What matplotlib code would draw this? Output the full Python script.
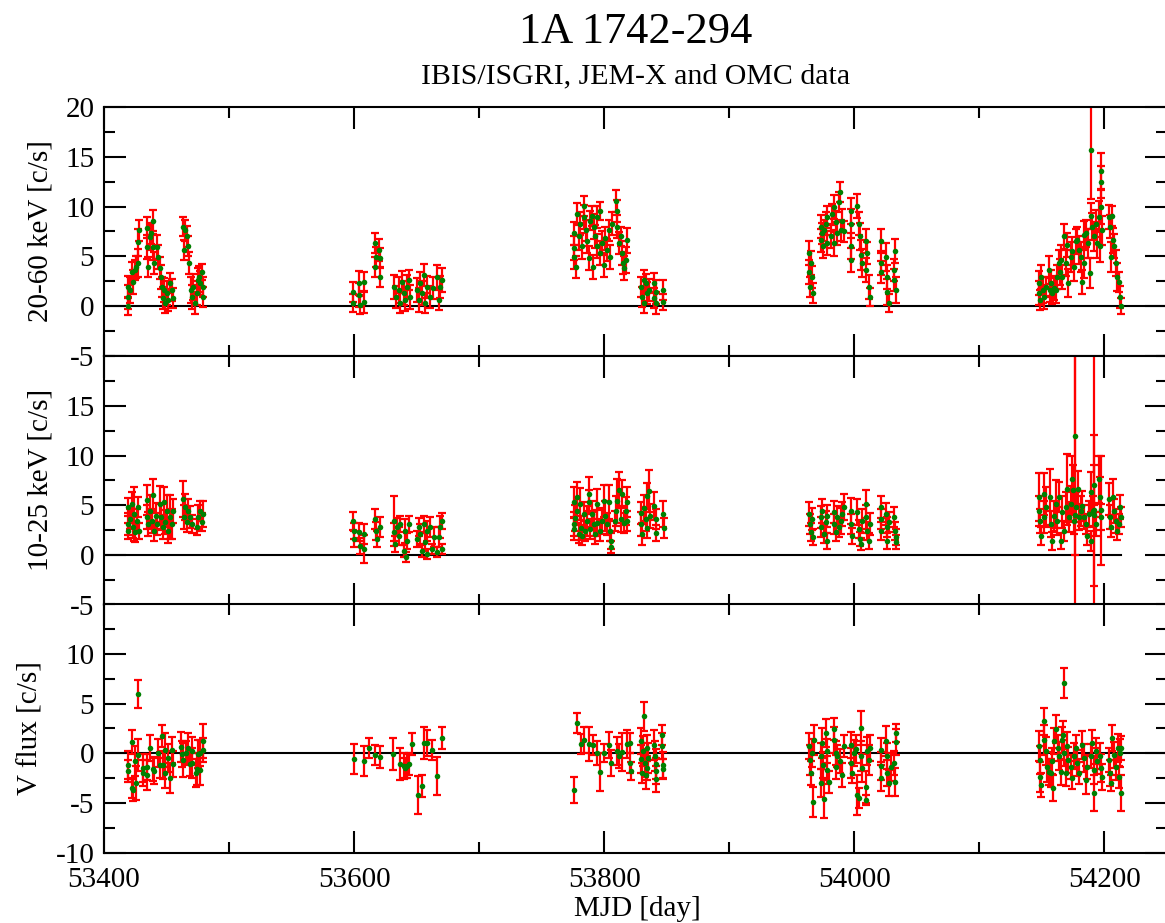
import numpy as np
import matplotlib.pyplot as plt
from matplotlib.ticker import MultipleLocator

plt.rcParams['font.family'] = ['Liberation Serif', 'DejaVu Serif']
plt.rcParams['axes.unicode_minus'] = False

# IBIS/ISGRI 20-60 keV  (mjd, rate, error)
hi_mjd = [53419, 53419, 53419.5, 53421, 53422, 53423.5, 53424.5, 53425.5, 53427.5, 53428, 53427.5,
          53434, 53434.5, 53435.5, 53436.5, 53437.5, 53439, 53439.5, 53440, 53442, 53443.5, 53444.5,
          53445.5, 53446, 53447, 53448, 53449, 53450, 53451.5, 53453, 53454, 53455,
          53463.5, 53464, 53465, 53466, 53467, 53468, 53469.5, 53470, 53471.5, 53473, 53474, 53475,
          53476, 53477, 53478, 53479, 53479.5,
          53599, 53599, 53603.5, 53603.5, 53604.5, 53607.5, 53608, 53617, 53617, 53617.5, 53619.5,
          53620.5, 53621, 53631.5, 53633.5, 53635.5, 53637, 53638, 53639.5, 53641, 53642, 53643.5,
          53644.5, 53650, 53651.5, 53653, 53654, 53655.5, 53657, 53658, 53661, 53663, 53666,
          53667.5, 53669, 53670,
          53775.5, 53775.5, 53776, 53777.5, 53778.5, 53779.5, 53781, 53782, 53783.5, 53784, 53785.5,
          53786.5, 53787.5, 53789, 53790, 53791, 53792, 53793, 53794, 53794.5, 53796.5, 53797, 53798,
          53799.5, 53801, 53802, 53803.5, 53805, 53806, 53809.5, 53810, 53810.5, 53811.5, 53813,
          53814, 53815, 53816, 53817.5, 53818,
          53829, 53830, 53831.5, 53832, 53833.5, 53834.5, 53835.5, 53839.5, 53840, 53841, 53841.5,
          53847, 53847,
          53963.5, 53963.5, 53964.5, 53965, 53966, 53967, 53973, 53973.5, 53974, 53975, 53976, 53977,
          53978, 53978.5, 53981, 53982, 53983.5, 53984, 53985, 53986, 53987.5, 53988.5, 53989, 53990,
          53991.5, 53997, 53997, 53997.5, 53997.5, 54002.5, 54003.5, 54004.5, 54005, 54006, 54009,
          54009.5, 54010.5, 54011.5, 54012.5, 54021, 54021, 54021.5, 54025.5, 54026, 54026.5,
          54027.5, 54031.5, 54032, 54032.5, 54033,
          54147.5, 54147.5, 54148.5, 54149.5, 54151, 54152, 54153.5, 54155.5, 54156.5, 54157.5, 54158,
          54159.5, 54161, 54162, 54163.5, 54164.5, 54165.5, 54166, 54167.5, 54169, 54170, 54170.5,
          54173, 54174, 54175.5, 54177, 54178, 54179.5, 54181, 54182, 54183.5, 54184, 54185.5,
          54186.5, 54188.5, 54189, 54189, 54190, 54191.5, 54193, 54194, 54195.5, 54196.5, 54197,
          54197.5, 54197.5, 54198, 54203.5, 54204.5, 54205, 54206, 54207, 54207.5, 54209, 54210,
          54211.5, 54212.5, 54213]
hi_rate = [1.9, 0.9, 0.0, 1.6, 3.4, 2.4, 3.6, 3.9, 4.3, 7.6, 6.4,
           7.9, 5.9, 3.9, 6.9, 7.3, 5.9, 8.6, 4.3, 5.9, 4.9, 3.8,
           2.9, 1.9, 0.8, 1.6, 0.3, 1.3, 0.6, 2.3, 1.6, 0.8,
           8.0, 5.6, 7.6, 7.0, 6.0, 4.3, 1.6, 0.9, 1.9, 0.3, 1.3, 2.6,
           2.9, 2.3, 3.4, 1.9, 0.9,
           0.3, 1.4, 2.3, 1.1, 0.1, 2.4, 0.4, 6.3, 3.9, 4.9, 5.6,
           2.9, 4.8, 1.9, 0.9, 1.6, 0.3, 2.4, 1.3, 0.6, 1.9, 2.6,
           0.9, 1.6, 0.6, 2.3, 1.3, 3.1, 0.3, 1.9, 0.9, 1.8, 2.9,
           0.6, 1.9, 2.6,
           7.3, 5.8, 4.9, 3.9, 9.3, 7.0, 8.3, 6.0, 10.1, 9.0, 7.6,
           6.5, 4.8, 8.6, 9.1, 3.9, 8.0, 7.0, 9.0, 6.0, 9.6, 5.3, 6.3,
           4.1, 6.8, 5.6, 7.6, 4.9, 8.3, 10.6, 9.6, 8.0, 6.3, 7.0,
           5.3, 4.3, 3.8, 4.6, 6.6,
           1.9, 0.9, 2.6, 0.3, 2.3, 1.3, 1.6, 2.3, 0.8, 1.4, 0.3,
           1.6, 0.4,
           5.3, 3.4, 1.9, 4.3, 2.9, 1.3, 8.0, 6.6, 7.3, 6.0, 7.6, 8.3,
           6.3, 9.0, 7.0, 9.3, 6.3, 10.0, 8.5, 7.3, 10.5, 11.5, 7.6, 8.6,
           7.5, 9.6, 8.3, 6.0, 4.6, 10.1, 8.3, 7.0, 5.1, 4.3, 6.5,
           3.6, 5.3, 1.9, 0.9, 6.5, 4.3, 3.4, 4.9, 2.9, 1.4,
           0.3, 3.6, 2.6, 5.5, 1.6,
           2.3, 1.3, 0.6, 2.9, 1.6, 0.9, 1.9, 3.6, 1.6, 2.3, 1.3,
           1.8, 1.6, 2.9, 4.3, 3.4, 4.6, 2.9, 7.0, 4.3, 6.1, 2.3,
           4.9, 5.5, 3.9, 6.5, 6.6, 5.6, 4.9, 2.4, 4.3, 7.1, 7.3,
           6.3, 3.3, 15.7, 9.1, 8.0, 7.0, 8.3, 6.3, 9.0, 6.0, 13.6,
           12.5, 10.0, 7.6, 9.0, 8.0, 4.9, 9.1, 6.6, 6.0, 4.3, 2.9,
           2.4, 0.9, 0.0]
hi_err = [1.1, 1.2, 0.9, 1.3, 1.0, 1.2, 1.0, 1.1, 1.4, 1.1, 1.4,
          1.1, 1.2, 1.0, 1.3, 1.1, 1.3, 1.1, 1.1, 1.2, 1.2, 1.1,
          1.2, 1.0, 1.1, 1.2, 1.0, 1.2, 1.1, 1.0, 1.1, 1.0,
          1.0, 1.0, 1.1, 1.1, 1.0, 1.1, 1.3, 1.2, 1.3, 1.1, 1.2, 1.2,
          1.1, 1.2, 0.8, 1.0, 1.0,
          0.9, 1.0, 1.2, 1.2, 0.9, 1.0, 1.1, 1.0, 1.0, 1.0, 1.1,
          1.0, 1.0, 1.2, 1.1, 1.3, 1.0, 1.1, 1.2, 1.1, 1.2, 1.0,
          1.2, 1.2, 1.2, 1.1, 1.2, 1.1, 1.0, 1.1, 1.1, 1.1, 1.2,
          1.0, 1.1, 1.2,
          1.2, 1.2, 1.2, 1.1, 1.1, 1.4, 1.2, 1.3, 1.0, 1.2, 1.1,
          1.2, 1.2, 1.0, 1.0, 1.2, 1.3, 1.2, 1.1, 1.2, 0.9, 1.2, 1.2,
          1.2, 1.2, 1.1, 1.1, 1.2, 1.2, 1.1, 1.1, 1.2, 1.1, 1.0,
          1.2, 1.1, 1.2, 1.3, 1.3,
          1.0, 1.0, 1.0, 1.0, 0.9, 1.1, 1.1, 1.0, 1.0, 1.2, 1.1,
          1.0, 0.8,
          1.2, 1.2, 1.0, 1.2, 1.1, 1.0, 1.2, 1.2, 1.1, 1.2, 1.1, 1.2,
          1.2, 1.1, 1.2, 1.0, 1.3, 1.2, 1.1, 1.2, 1.0, 1.0, 1.1, 1.2,
          1.1, 1.3, 1.5, 1.3, 1.2, 1.2, 1.2, 1.4, 1.5, 1.4, 1.2,
          1.2, 1.1, 1.2, 0.9, 1.2, 1.2, 1.1, 1.4, 1.2, 1.3,
          0.9, 1.1, 1.1, 1.2, 1.3,
          1.2, 1.2, 1.0, 1.2, 1.3, 1.2, 1.0, 1.4, 1.2, 1.3, 1.1,
          1.2, 1.3, 1.2, 1.3, 1.3, 1.5, 1.2, 1.3, 1.3, 1.2, 1.4,
          1.5, 1.4, 1.4, 1.2, 1.4, 1.4, 1.5, 1.2, 1.5, 1.5, 1.4,
          1.5, 1.5, 4.9, 1.3, 1.4, 1.5, 1.4, 1.5, 1.6, 1.6, 1.8,
          1.6, 1.7, 1.5, 1.2, 1.2, 1.5, 1.0, 1.3, 1.2, 1.3, 1.4,
          1.0, 1.1, 0.8]

# JEM-X 10-25 keV
lo_mjd = [53419, 53419, 53419.5, 53421, 53422, 53423, 53424, 53425, 53426, 53427.5, 53428,
          53434, 53434.5, 53435.5, 53437, 53438, 53439.5, 53440, 53441.5, 53442.5, 53444.5,
          53445.5, 53447, 53448, 53449, 53450, 53451.5, 53453, 53454, 53455,
          53463.5, 53464, 53465, 53466, 53467.5, 53469, 53470, 53474, 53475.5, 53477, 53478, 53479.5,
          53599, 53599.5, 53600, 53603.5, 53604.5, 53607.5, 53608, 53617, 53617.5, 53618.5, 53621,
          53631.5, 53632, 53633, 53634, 53635.5, 53637, 53639.5, 53641, 53641.5, 53642.5, 53643.5,
          53650, 53651.5, 53653, 53654, 53655.5, 53657, 53658, 53658.5, 53661, 53662, 53663.5,
          53666, 53667.5, 53669, 53670, 53670,
          53775.5, 53775.5, 53776, 53777, 53778, 53778.5, 53779.5, 53781, 53781.5, 53782, 53783.5,
          53785, 53786, 53787.5, 53787.5, 53789, 53790, 53791.5, 53793, 53794, 53794.5, 53796.5,
          53798, 53799.5, 53801, 53802, 53803.5, 53805, 53805.5, 53805.5, 53809, 53809.5, 53810.5,
          53811.5, 53813, 53814, 53815.5, 53817, 53818, 53818.5,
          53829, 53829.5, 53830, 53831.5, 53833, 53834, 53834.5, 53835.5, 53836.5, 53840, 53841,
          53841.5, 53847, 53847.5,
          53963.5, 53964.5, 53965, 53966, 53967, 53973, 53973.5, 53974, 53975.5, 53977, 53978,
          53978.5, 53983.5, 53984, 53985, 53986, 53987.5, 53989, 53990, 53991.5, 53997, 53997.5,
          53998, 54002.5, 54003.5, 54004.5, 54005, 54006, 54009, 54009.5, 54010, 54011.5, 54012.5,
          54021, 54021, 54021.5, 54025.5, 54026, 54026.5, 54027.5, 54031.5, 54032.5, 54033, 54033,
          54147.5, 54147.5, 54148.5, 54149.5, 54151.5, 54152, 54153, 54156.5, 54157.5, 54158,
          54159.5, 54161, 54162, 54163.5, 54165, 54166, 54167.5, 54169, 54170, 54171.5, 54173,
          54174, 54174.5, 54175.5, 54176.5, 54176.5, 54177.5, 54178.5, 54179.5, 54181, 54182,
          54183.5, 54185, 54186, 54187.5, 54189, 54189.5, 54191, 54191.5, 54192, 54192, 54193,
          54195.5, 54196.5, 54197, 54197.5, 54203.5, 54204.5, 54205.5, 54207, 54207.5, 54209,
          54210, 54211.5, 54212.5, 54213]
lo_rate = [4.8, 3.1, 2.4, 3.6, 5.1, 2.8, 4.1, 2.3, 3.4, 4.8, 2.4,
           5.5, 3.8, 3.1, 4.4, 3.4, 6.0, 2.4, 3.9, 3.1, 5.1,
           3.8, 2.8, 5.3, 3.3, 4.4, 2.4, 3.8, 3.1, 4.4,
           5.6, 3.8, 4.8, 3.3, 4.4, 3.8, 3.1, 2.8, 3.8, 4.4, 3.3, 4.1,
           3.4, 2.4, 1.6, 2.3, 0.9, 2.1, 0.6, 3.6, 2.4, 1.6, 2.8,
           3.4, 2.3, 1.1, 2.8, 1.9, 3.1, 0.4, 2.4, -0.2, 1.4, 3.1,
           1.6, 2.8, 2.1, 0.4, 3.1, 1.3, 2.4, 0.1, 2.8, 0.6, 1.8,
           0.3, 1.8, 2.8, 0.6, 3.4,
           5.3, 3.1, 2.6, 3.7, 4.4, 5.8, 2.1, 5.1, 2.7, 1.9, 4.1,
           2.4, 3.4, 6.1, 5.3, 2.6, 4.1, 3.1, 2.1, 5.1, 3.2, 2.4,
           3.4, 5.4, 3.9, 3.1, 5.3, 2.4, 1.4, 0.8, 3.4, 4.4, 5.4,
           6.5, 3.6, 6.1, 3.2, 4.4, 5.3, 3.4,
           4.2, 3.1, 2.1, 4.75, 3.6, 2.7, 5.9, 6.4, 3.9, 4.9, 3.6,
           2.2, 4.1, 2.7,
           4.1, 3.1, 2.3, 3.6, 1.8, 3.8, 2.8, 4.4, 2.1, 3.3, 3.9,
           1.4, 4.3, 3.1, 2.3, 3.8, 2.8, 3.4, 4.1, 4.8, 4.4, 3.1,
           1.9, 4.3, 2.6, 1.6, 1.1, 3.4, 5.1, 3.8, 2.4, 1.4, 3.1,
           4.8, 3.6, 2.4, 4.1, 2.8, 1.4, 3.3, 3.8, 2.4, 1.8, 1.3,
           5.8, 4.4, 3.4, 1.9, 6.1, 3.8, 4.8, 5.8, 3.1, 1.4,
           3.9, 5.1, 3.4, 5.8, 1.4, 4.3, 2.4, 4.8, 6.6, 3.8, 5.1,
           7.6, 6.5, 3.4, 12.0, 4.0, 4.8, 6.6, 3.8, 4.4, 4.9,
           3.8, 3.1, 1.9, 4.1, 6.3, 1.4, 4.4, 7.0, 4.5, 4.0, 3.1,
           7.6, 5.8, 4.5, 3.8, 5.6, 3.8, 2.8, 5.8, 4.4, 3.4,
           2.4, 3.1, 4.8, 3.8]
lo_err = [0.9, 1.1, 0.8, 1.0, 1.2, 1.1, 2.7, 1.0, 1.2, 1.0, 0.8,
          1.5, 1.2, 1.2, 1.6, 1.2, 1.6, 1.0, 1.3, 1.1, 1.8,
          1.3, 1.2, 1.5, 1.2, 1.6, 1.2, 2.2, 1.5, 1.2,
          1.8, 1.2, 1.3, 1.0, 1.2, 1.1, 0.9, 0.8, 1.2, 1.0, 0.9, 1.3,
          0.9, 0.8, 0.8, 0.9, 0.8, 1.0, 1.4, 1.0, 0.9, 0.8, 1.0,
          2.5, 0.9, 0.8, 0.9, 0.9, 0.8, 0.6, 1.2, 0.5, 0.8, 0.8,
          0.8, 0.9, 1.0, 0.6, 0.8, 0.9, 1.0, 0.5, 1.0, 0.5, 1.0,
          0.5, 1.0, 1.1, 0.5, 0.8,
          1.5, 1.2, 1.1, 1.3, 1.2, 1.5, 0.9, 1.6, 1.2, 0.9, 1.2,
          1.0, 1.5, 1.7, 1.2, 1.0, 1.3, 1.2, 1.0, 1.5, 1.3, 1.0,
          1.3, 1.6, 1.5, 1.1, 1.7, 1.0, 0.8, 0.6, 1.0, 1.5, 2.2,
          1.8, 1.3, 1.4, 1.0, 1.4, 1.5, 1.0,
          1.1, 1.2, 1.1, 1.3, 1.2, 1.0, 1.3, 2.1, 1.2, 1.4, 1.0,
          0.8, 1.3, 1.0,
          1.2, 1.0, 0.9, 1.1, 0.8, 1.1, 1.0, 1.2, 0.9, 1.1, 1.1,
          0.8, 1.1, 1.0, 0.9, 1.1, 1.0, 1.3, 1.2, 1.3, 1.3, 1.0,
          0.8, 1.3, 0.9, 0.7, 0.6, 1.2, 1.4, 1.2, 0.9, 0.8, 1.1,
          1.1, 1.0, 0.9, 1.1, 1.0, 0.8, 1.0, 1.0, 0.9, 0.8, 0.7,
          2.4, 1.5, 1.2, 0.9, 2.1, 1.6, 2.0, 2.8, 1.3, 0.9,
          1.5, 2.4, 1.4, 1.5, 0.8, 1.6, 1.0, 1.5, 3.6, 1.5, 1.8,
          2.4, 2.5, 1.3, 12.0, 25.0, 1.5, 1.8, 1.3, 1.5, 1.5,
          1.2, 1.0, 0.9, 1.3, 2.0, 1.0, 1.5, 2.0, 7.6, 25.0, 1.2,
          2.4, 2.0, 5.5, 1.3, 1.6, 1.2, 1.0, 1.8, 1.2, 1.2,
          0.9, 1.0, 1.2, 1.0]

# OMC V flux
v_mjd = [53419, 53419, 53422, 53422, 53423, 53425, 53425.5, 53427.5, 53427.5, 53431, 53431.5,
         53434, 53434.5, 53437, 53439.5, 53440, 53443.5, 53444.5, 53446, 53447, 53448.5, 53449,
         53451.5, 53452.5, 53454.5, 53455, 53461.5, 53462.5, 53463.5, 53465.5, 53467, 53468.5,
         53470, 53470.5, 53473.5, 53474, 53475.5, 53476.5, 53477, 53479, 53479.5,
         53599.5, 53607.5, 53611.5, 53617, 53620.5, 53631, 53636.5, 53639.5, 53641, 53642,
         53643.5, 53646.5, 53651, 53654, 53655.5, 53658.5, 53662.5, 53666.5, 53670,
         53775.5, 53778, 53781.5, 53784, 53787.5, 53791, 53794, 53796.5, 53799.5, 53803.5,
         53805.5, 53810, 53811.5, 53814.5, 53818, 53820.5, 53820.5, 53821, 53829, 53829.5,
         53830, 53831, 53832, 53832.5, 53833, 53834, 53834.5, 53835, 53840, 53840.5, 53841,
         53841.5, 53841.5, 53846.5, 53846.5, 53847, 53847,
         53963.5, 53964.5, 53965, 53966, 53967, 53967.5, 53973, 53973.5, 53974, 53975, 53976,
         53977, 53978, 53978.5, 53979.5, 53983.5, 53984, 53985, 53985.5, 53986.5, 53988.5,
         53990, 53991.5, 53997, 53997.5, 53998, 53999.5, 54001.5, 54002.5, 54003.5, 54005,
         54005.5, 54006, 54009, 54009.5, 54010.5, 54011.5, 54012.5, 54021, 54021, 54021.5,
         54025.5, 54026, 54026.5, 54027.5, 54029, 54031.5, 54032.5, 54033, 54033,
         54147.5, 54148.5, 54148.5, 54149, 54151.5, 54152, 54153, 54154, 54155.5, 54157, 54158,
         54159, 54159.5, 54161.5, 54162.5, 54163.5, 54165, 54166, 54167, 54167.5, 54168,
         54169, 54170, 54170.5, 54173, 54174, 54175.5, 54177, 54178, 54179.5, 54182, 54183.5,
         54185, 54186, 54189, 54190, 54191.5, 54192, 54193, 54194, 54196.5, 54197.5, 54198,
         54203.5, 54204.5, 54205.5, 54206, 54207.5, 54209.5, 54210.5, 54211.5, 54212.5, 54213,
         54213.5]
v_flux = [-1.2, -1.8, 1.1, -3.5, -3.7, -0.8, -3.0, 6.0, -0.2, -2.0, -1.5,
          -2.2, -1.4, 0.5, -1.6, -1.8, 0.0, -1.2, 1.7, -1.2, 0.3, -2.0,
          -0.5, -2.5, 0.3, -1.1, 0.6, -0.1, -0.7, 0.0, 0.5, -1.1,
          0.2, -1.0, -2.0, -1.6, -0.1, -1.7, 0.0, 0.3, 1.2,
          -0.6, -0.8, 0.5, -0.2, -0.4, -0.1, -1.1, -1.3, -1.5, -1.3,
          -1.1, 0.9, -4.2, -3.3, 1.0, 1.0, 0.3, -2.3, 1.5,
          -3.7, 3.0, 0.9, 1.3, 0.9, 0.8, 0.0, -1.9, 0.0, 0.8,
          -1.0, 0.2, -0.3, 0.1, 0.9, 1.0, -1.0, -1.8, 1.2, -0.6,
          -2.0, 0.2, 3.7, -1.0, -2.2, -1.5, 0.5, -0.5, 0.8, -0.3, -1.1,
          -2.6, -1.75, 1.85, 0.7, -1.2, -1.6,
          0.7, -0.7, -2.0, 0.0, -4.9, 1.35, -0.3, -3.0, 1.0, -1.2, -4.6,
          2.0, 0.2, -1.7, -2.9, 2.4, 1.35, 0.0, -1.35, -0.3, -0.8,
          -2.2, 0.7, 0.8, -1.0, -2.0, 0.0, 0.4, -4.2, -4.5, 2.5,
          -0.3, -1.5, -3.4, -4.7, 0.2, -0.7, 0.5, 0.3, -1.3, -2.5,
          1.2, -0.3, -2.0, -3.0, -1.35, -1.0, -2.9, 1.1, 2.0,
          0.7, -0.7, -2.4, -3.2, 3.2, 1.35, 0.2, -1.35, -1.9, -2.0, -0.8,
          -3.5, 1.2, 2.4, 0.5, -0.3, -1.9, 1.35, 1.85, 7.1, 0.0,
          -2.0, 0.7, -0.7, -1.35, -2.5, -0.3, 0.5, -1.0, -2.0, 0.8, -0.5,
          -2.7, -1.35, -0.3, 1.0, -4.0, -1.7, 0.2, -0.8, -0.3, -1.5, -2.4,
          -0.7, -2.0, -3.0, 1.5, -0.2, -1.35, 0.5, -2.4, 0.0, -4.0,
          0.5]
v_err = [1.4, 1.1, 1.2, 1.0, 1.1, 1.5, 1.7, 1.4, 1.6, 1.3, 1.4,
         1.5, 1.3, 1.3, 1.2, 1.3, 1.4, 1.3, 1.1, 1.4, 1.7, 1.5,
         1.4, 1.5, 1.3, 1.3, 1.5, 1.3, 1.7, 1.2, 1.5, 1.2,
         1.4, 1.5, 1.4, 1.6, 1.4, 1.5, 1.3, 1.2, 1.7,
         1.5, 1.5, 1.0, 1.0, 1.1, 1.6, 1.6, 1.3, 1.0, 1.2,
         1.1, 1.1, 1.9, 1.1, 1.6, 1.3, 1.0, 1.9, 1.1,
         1.3, 1.0, 1.0, 1.3, 1.7, 1.0, 1.2, 1.9, 0.9, 1.3,
         1.3, 1.4, 1.2, 1.9, 1.4, 1.0, 1.0, 0.9, 1.3, 1.4,
         1.0, 1.5, 1.5, 1.4, 1.4, 1.2, 1.3, 1.5, 1.5, 1.5, 1.5,
         1.3, 1.3, 1.0, 1.3, 1.3, 1.0,
         1.3, 1.5, 1.2, 1.4, 1.5, 1.5, 1.3, 1.4, 1.5, 1.3, 1.9,
         1.4, 1.2, 1.4, 1.1, 1.1, 1.3, 1.2, 1.2, 1.1, 1.2,
         1.2, 1.1, 1.3, 1.5, 1.0, 1.3, 1.4, 2.0, 1.0, 1.7,
         1.5, 1.4, 1.6, 0.5, 1.4, 1.5, 1.3, 1.2, 1.4, 1.3,
         1.5, 1.3, 1.3, 1.3, 1.4, 1.2, 1.4, 1.3, 0.9,
         1.5, 1.4, 1.5, 1.2, 1.4, 1.5, 1.4, 1.5, 1.3, 1.4, 1.3,
         1.3, 1.3, 1.4, 1.3, 1.4, 1.3, 1.3, 1.4, 1.5, 1.3,
         1.3, 1.4, 1.3, 1.2, 1.1, 1.3, 1.3, 1.3, 1.1, 1.4, 1.4,
         1.4, 1.2, 1.2, 1.3, 1.8, 1.4, 1.3, 1.3, 1.3, 1.4, 1.3,
         1.2, 1.3, 0.8, 1.3, 1.3, 1.3, 1.4, 1.1, 1.4, 1.8,
         1.2]

panels = [
    (hi_mjd, hi_rate, hi_err, '20-60 keV [c/s]', (-5, 20), [-5, 0, 5, 10, 15, 20]),
    (lo_mjd, lo_rate, lo_err, '10-25 keV [c/s]', (-5, 20), [-5, 0, 5, 10, 15]),
    (v_mjd, v_flux, v_err, 'V flux [c/s]', (-10, 15), [-10, -5, 0, 5, 10]),
]

fig = plt.figure(figsize=(11.65, 9.23), dpi=100)
bottoms = [0.6143, 0.3446, 0.0759]
label_x = [-0.048, -0.048, -0.0574]

for i, (t, r, e, lab, ylim, yt) in enumerate(panels):
    ax = fig.add_axes([0.0893, bottoms[i], 0.9124, 0.2698])
    t = np.array(t); r = np.array(r); e = np.array(e)
    if i == 1:
        ax.plot([53400, t.max()], [0, 0], color='black', lw=1.5, zorder=1)
    else:
        ax.axhline(0, color='black', lw=1.5, zorder=1)
    ax.errorbar(t, r, yerr=e, fmt='none', ecolor='red', elinewidth=1.6,
                capsize=2.8, capthick=1.6, zorder=2)
    ax.plot(t, r, 'o', color='#008000', ms=4.0, mew=0, zorder=3)

    ax.set_xlim(53400, 54250)
    ax.set_ylim(*ylim)
    ax.set_yticks(yt)
    ax.yaxis.set_minor_locator(MultipleLocator(2.5))
    ax.xaxis.set_major_locator(MultipleLocator(200))
    ax.xaxis.set_minor_locator(MultipleLocator(100))
    ax.tick_params(which='both', direction='in', top=True, right=True, width=1.5)
    ax.tick_params(which='major', length=16)
    ax.tick_params(which='minor', length=8)
    ax.tick_params(axis='y', labelsize=21, pad=7)
    ax.tick_params(axis='x', labelsize=21, pad=10)
    for s in ax.spines.values():
        s.set_linewidth(1.5)
    ax.set_ylabel(lab, fontsize=21)
    ax.yaxis.set_label_coords(label_x[i], 0.5)
    if i < 2:
        ax.tick_params(axis='x', labelbottom=False)
    else:
        ax.set_xlabel('MJD [day]', fontsize=21)
        ax.xaxis.set_label_coords(0.502, -0.172)

fig.text(0.5455, 1 - 43 / 923, '1A 1742-294', ha='center', va='baseline', fontsize=32)
fig.text(0.5455, 1 - 83 / 923, 'IBIS/ISGRI, JEM-X and OMC data', ha='center', va='baseline',
         fontsize=21.5)

fig.savefig('out.png', dpi=100)
